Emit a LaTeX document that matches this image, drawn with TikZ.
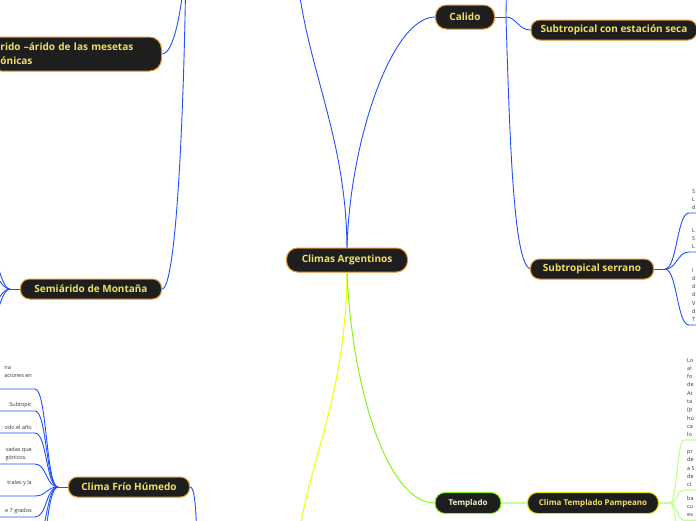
\documentclass[tikz,border=0pt]{standalone}
\usepackage{fontspec}
\setmainfont{Open Sans}
\usetikzlibrary{positioning}

\definecolor{topicfill}{HTML}{1E1E1E}
\definecolor{topicedge}{HTML}{E3952B}
\definecolor{topictext}{HTML}{F3E060}
\definecolor{templtext}{HTML}{F2F2CC}
\definecolor{linkblue}{HTML}{1F4FFF}
\definecolor{linkyellow}{HTML}{EEFF00}
\definecolor{linkgreen}{HTML}{86F51A}
\definecolor{palegreen}{HTML}{C4FF96}
\definecolor{pampedge}{HTML}{E2E200}
\definecolor{subgrey}{HTML}{333333}

\begin{document}
\begin{tikzpicture}[x=1pt, y=-1pt,
    topic/.style={draw=topicedge, fill=topicfill, text=topictext, line width=1pt, rounded corners=9pt,
      minimum height=20pt, inner sep=0pt, font=\bfseries\fontsize{10}{11}\selectfont},
    smalltopic/.style={topic, minimum height=21pt, rounded corners=10pt, font=\bfseries\fontsize{8}{9}\selectfont},
    subtext/.style={font=\fontsize{5.5}{8.3}\selectfont, text=subgrey, align=left, inner xsep=3pt, inner ysep=3pt},
    blueline/.style={draw=linkblue, line width=0.9pt}]
  \useasboundingbox (0,0) rectangle (696,520);
  \clip (0,0) rectangle (696,520);

  % main topics
  \node[topic, minimum width=121pt, minimum height=24pt, rounded corners=11pt] (climas) at (347,260) {Climas Argentinos};
  \node[topic, minimum width=59pt, minimum height=24pt, rounded corners=11pt] (calido) at (465,17) {Calido};
  \node[topic, minimum width=166pt] (seca) at (614,30) {Subtropical con estación seca};
  \node[topic, minimum width=123pt] (serrano) at (592,269) {Subtropical serrano};
  \node[topic, minimum width=141pt] (montana) at (91,289) {Semiárido de Montaña};
  \node[topic, minimum width=121pt] (frio) at (129,487) {Clima Frío Húmedo};
  \node[topic, anchor=east, align=left, text width=150pt, inner xsep=11pt, minimum height=34pt, rounded corners=12pt,
    font=\bfseries\fontsize{10}{14}\selectfont] (mesetas) at (162,54) {rido –árido de las mesetas\\ónicas};
  \node[smalltopic, draw=linkgreen, text=templtext, minimum width=66pt] (templado) at (468,503) {Templado};
  \node[smalltopic, draw=pampedge, minimum width=131pt] (pampeano) at (593,503) {Clima Templado Pampeano};

  % subtopics cut by the frame
  \node[subtext, anchor=south west] (sr1) at (689,213) {S\\L\\d};
  \node[subtext, anchor=south west] (sr2) at (689,252) {L\\S\\L};
  \node[subtext, anchor=south west] (sr3) at (689,325) {I\\d\\d\\d\\V\\d\\T};
  \node[subtext, anchor=south west] (pm1) at (684,440) {Lo\\al\\fo\\de\\At\\ta\\(p\\hú\\ca\\lo};
  \node[subtext, anchor=south west] (pm2) at (684,490) {pr\\de\\a S\\de\\cl};
  \node[subtext, anchor=north west] (pm3) at (684,493) {ba\\cu\\es};
  \node[subtext, anchor=south east] (fr1) at (35,389) {na\\aciones en\\\mbox{}};
  \node[subtext, anchor=south east] (fr2) at (35,411) {Subtopic};
  \node[subtext, anchor=south east] (fr3) at (35,433) {odo el año};
  \node[subtext, anchor=south east] (fr4) at (35,464) {vadas que\\gónicos.};
  \node[subtext, anchor=south east] (fr5) at (35,496) {trales y la\\\mbox{}};
  \node[subtext, anchor=south east] (fr6) at (35,517) {e 7 grados};

  % forks and off-frame ends
  \coordinate (leftedge) at (-8,0);
  \coordinate (rightedge) at (706,0);
  \coordinate (aridotop) at (296,-40);
  \coordinate (aridofork) at (186,-40);
  \coordinate (calfork) at (506,17);
  \coordinate (calup) at (507,-40);
  \coordinate (serfork) at (665,269);
  \coordinate (pfork) at (670,503);
  \coordinate (frfork) at (58,487);
  \coordinate (mofork) at (10,289);
  \coordinate (friodown) at (197,545);
  \coordinate (frioroot) at (298,545);

  % blue branch
  \draw[blueline] (climas.north) .. controls (346,130) and (302,60) .. (aridotop);
  \draw[blueline] (climas.north) .. controls (350,140) and (392,17) .. (calido.west);
  \draw[blueline] (calido.east) -- (calfork);
  \draw[blueline] (calfork) .. controls (506,5) and (507,-20) .. (calup);
  \draw[blueline] (calfork) .. controls +(10,0) and +(-12,0) .. (seca.west);
  \draw[blueline] (calfork) .. controls (510,150) and (514,262) .. (serrano.west);
  \draw[blueline] (mesetas.east) .. controls (174,54) and (182,10) .. (aridofork);
  \draw[blueline] (montana.east) .. controls (176,289) and (184,120) .. (aridofork);
  \draw[blueline] (frio.east) .. controls (194,487) and (196,500) .. (friodown);

  \draw[blueline] (serrano.east) -- (serfork);
  \foreach \s in {sr1,sr2,sr3}
    \draw[blueline] (serfork) .. controls +(12,0) and +(-12,0) .. (\s.south west) -- (\s.south west -| rightedge);

  \draw[blueline] (frio.west) -- (frfork);
  \foreach \s in {fr1,fr2,fr3,fr4,fr5,fr6}
    \draw[blueline] (frfork) .. controls +(-12,0) and +(12,0) .. (\s.south east) -- (\s.south east -| leftedge);
  \foreach \y in {540,565}
    \draw[blueline] (frfork) .. controls +(-12,0) and +(12,0) .. (35,\y);

  \draw[blueline] (montana.west) -- (mofork);
  \foreach \y in {245,268,310,330}
    \draw[blueline] (mofork) .. controls +(-10,0) and +(10,0) .. (-14,\y);

  % yellow and green branches
  \draw[draw=linkyellow, line width=1pt] (climas.south) .. controls (346,400) and (305,470) .. (frioroot);
  \draw[draw=linkgreen, line width=1pt] (climas.south) .. controls (352,390) and (388,503) .. (templado.west);
  \draw[draw=palegreen, line width=2pt] (templado.east) -- (pampeano.west);
  \draw[draw=palegreen, line width=1.2pt] (pampeano.east) -- (pfork);
  \foreach \s in {pm1,pm2,pm3}
    \draw[draw=palegreen, line width=1.2pt] (pfork) .. controls +(7,0) and +(-7,0) .. (\s.south west) -- (\s.south west -| rightedge);
  \draw[draw=palegreen, line width=1.2pt] (pfork) .. controls +(7,0) and +(-7,0) .. (684,560);
\end{tikzpicture}
\end{document}
